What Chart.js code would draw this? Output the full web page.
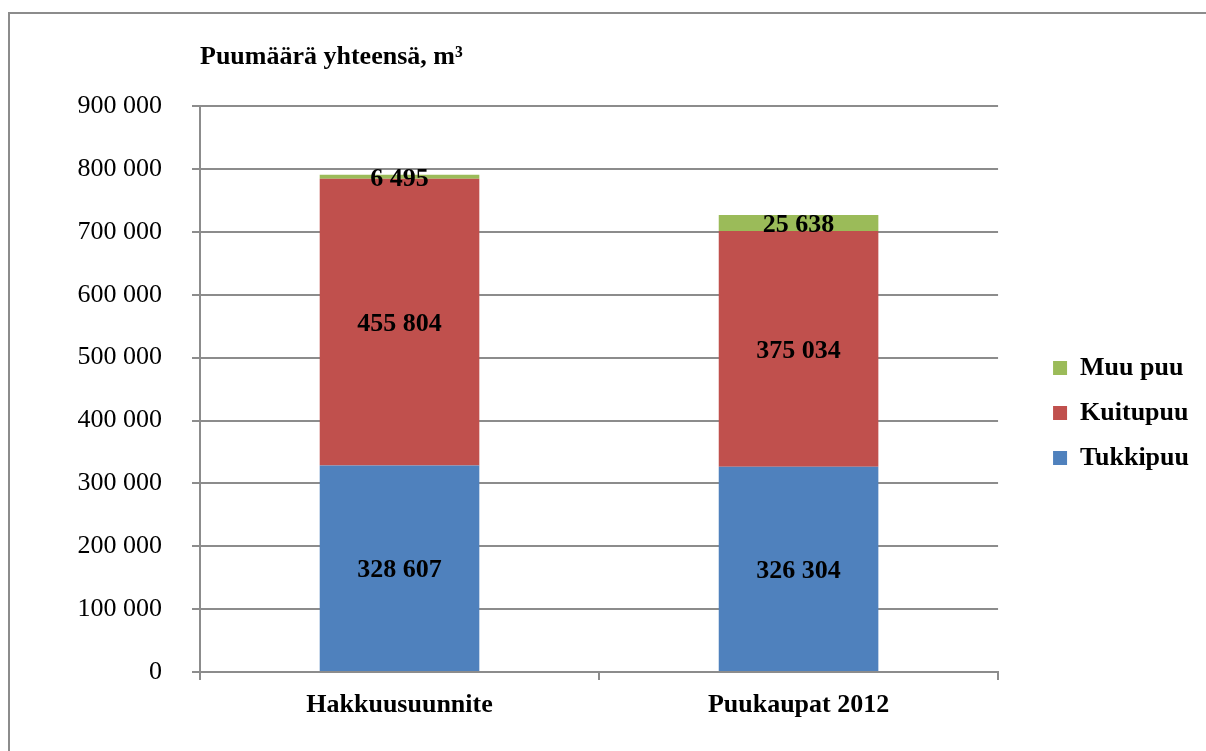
<!DOCTYPE html>
<html>
<head>
<meta charset="utf-8">
<title>Puumäärä yhteensä</title>
<script src="https://cdn.jsdelivr.net/npm/chart.js@4"></script>
<style>
  html, body { margin: 0; padding: 0; background: #fff; }
  #wrap { width: 1206px; height: 751px; }
</style>
</head>
<body>
<div id="wrap"><canvas id="woodChart" width="1206" height="751"></canvas></div>
<script>
// ---------- Data ----------
const categories = ["Hakkuusuunnite", "Puukaupat 2012"];
const tukkipuu = [328607, 326304];
const kuitupuu = [455804, 375034];
const muuPuu = [6495, 25638];
const chartTitle = "Puumäärä yhteensä, m³";

const FONT = "'Liberation Serif', 'Times New Roman', serif";
const GRID = "#8c8c8c";

// 900000 -> "900 000"
function fmt(v) {
  return String(v).replace(/\B(?=(\d{3})+(?!\d))/g, " ");
}

// ---------- Plugins ----------
// grey frame line on the left and top edges
const framePlugin = {
  id: "frame",
  beforeDraw(chart) {
    const c = chart.ctx;
    c.save();
    c.strokeStyle = GRID;
    c.lineWidth = 2;
    c.beginPath();
    c.moveTo(9, chart.height);
    c.lineTo(9, 13);
    c.lineTo(chart.width, 13);
    c.stroke();
    c.restore();
  }
};

// value in the middle of every bar segment
const valueLabels = {
  id: "valueLabels",
  afterDatasetsDraw(chart) {
    const c = chart.ctx;
    c.save();
    c.font = "bold 26px " + FONT;
    c.fillStyle = "#000";
    c.textAlign = "center";
    c.textBaseline = "middle";
    chart.data.datasets.forEach((ds, i) => {
      chart.getDatasetMeta(i).data.forEach((bar, j) => {
        const y = (bar.y + bar.base) / 2 + 2;
        c.fillText(fmt(ds.data[j]), bar.x, y);
      });
    });
    c.restore();
  }
};

// ---------- Chart ----------
const ctx = document.getElementById("woodChart").getContext("2d");

new Chart(ctx, {
  type: "bar",
  data: {
    labels: categories,
    datasets: [
      { label: "Tukkipuu", data: tukkipuu, backgroundColor: "#4F81BD" },
      { label: "Kuitupuu", data: kuitupuu, backgroundColor: "#C0504D" },
      { label: "Muu puu", data: muuPuu, backgroundColor: "#9BBB59" }
    ]
  },
  options: {
    responsive: false,
    animation: false,
    devicePixelRatio: 1,
    layout: { padding: { left: 0, right: 7, top: 0, bottom: 0 } },
    datasets: { bar: { barPercentage: 0.4, categoryPercentage: 1.0 } },
    scales: {
      x: {
        stacked: true,
        grid: { drawOnChartArea: false, color: GRID, tickColor: GRID, tickLength: 8, lineWidth: 2 },
        border: { color: GRID, width: 2 },
        ticks: { color: "#000", padding: 10, font: { family: FONT, size: 26, weight: "bold" } },
        afterFit(s) { s.height = 79; }
      },
      y: {
        stacked: true,
        min: 0,
        max: 900000,
        ticks: {
          stepSize: 100000,
          color: "#000",
          padding: 30,
          font: { family: FONT, size: 26 },
          callback: (v) => fmt(v)
        },
        grid: { color: GRID, tickColor: GRID, tickLength: 8, lineWidth: 2 },
        border: { color: GRID, width: 2 },
        afterFit(s) { s.width = 200; }
      },
      // empty right axis, only keeps the gap between plot and legend
      spacer: {
        position: "right",
        display: true,
        grid: { display: false, drawTicks: false },
        border: { display: false },
        ticks: { display: false },
        afterFit(s) { s.width = 36; }
      }
    },
    plugins: {
      title: {
        display: true,
        text: chartTitle,
        align: "start",
        fullSize: false,
        color: "#000",
        font: { family: FONT, size: 26, weight: "bold" },
        padding: { top: 42, bottom: 33 }
      },
      legend: {
        position: "right",
        fullSize: false,
        reverse: true,
        title: { display: true, text: "", font: { size: 20 }, padding: 12 },
        labels: {
          boxWidth: 14,
          boxHeight: 14,
          padding: 19,
          color: "#000",
          font: { family: FONT, size: 26, weight: "bold" }
        }
      },
      tooltip: { enabled: false }
    }
  },
  plugins: [framePlugin, valueLabels]
});
</script>
</body>
</html>
